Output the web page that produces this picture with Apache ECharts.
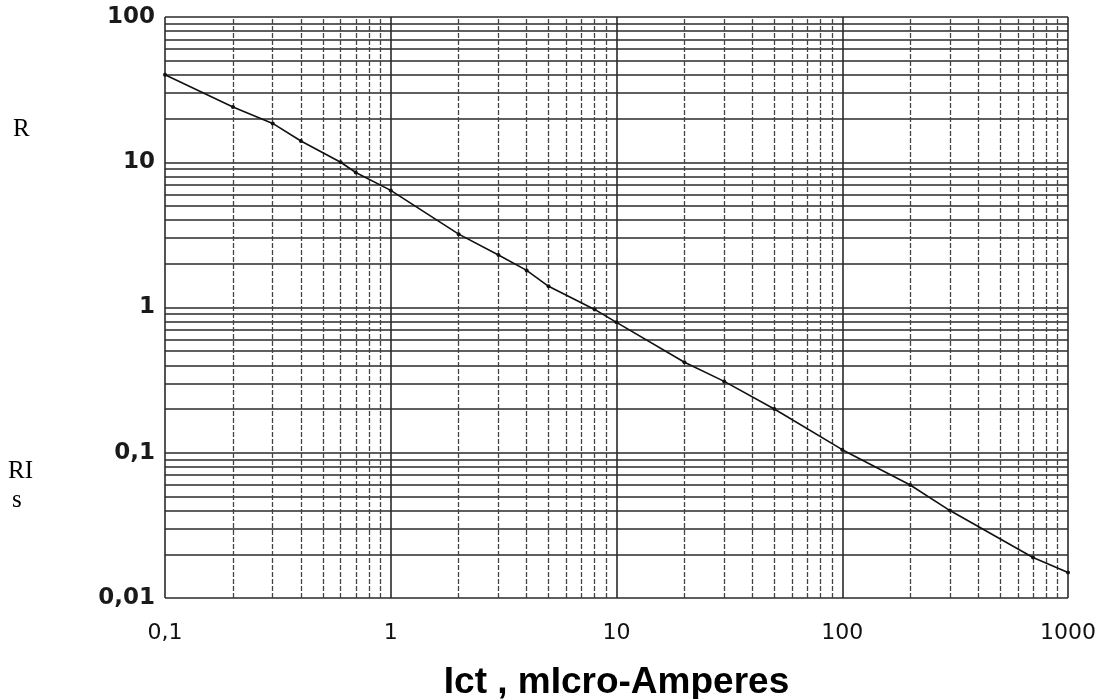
<!DOCTYPE html>
<html>
<head>
<meta charset="utf-8">
<script src="https://cdn.jsdelivr.net/npm/echarts@6/dist/echarts.min.js"></script>
<style>
html,body{margin:0;padding:0;background:#fff;}
#chart{width:1102px;height:699px;}
</style>
</head>
<body>
<div id="chart"></div>
<script>
// Data (log-log)
const currentUA = [0.1, 0.2, 0.3, 0.4, 0.6, 0.7, 1, 2, 3, 4, 5, 8, 10, 20, 30, 50, 100, 200, 300, 700, 1000];
const resistance = [40, 24, 18.5, 14, 10, 8.5, 6.4, 3.2, 2.3, 1.8, 1.4, 0.97, 0.79, 0.42, 0.31, 0.2, 0.105, 0.06, 0.04, 0.019, 0.015];

// Tick labels
const xTickLabels = ['0,1', '1', '10', '100', '1000'];
const yTickLabels = ['0,01', '0,1', '1', '10', '100'];

// Decade grid (minor log lines)
const xDecades = [0.1, 1, 10, 100];
const yDecades = [0.01, 0.1, 1, 10];
const minorMultipliers = [2, 3, 4, 5, 6, 7, 8, 9];

const xTitle = 'Ict , mIcro-Amperes';

const xMinorVals = [];
xDecades.forEach(d => minorMultipliers.forEach(m => xMinorVals.push(+(d * m).toPrecision(6))));
const xMajorVals = [0.1, 1, 10, 100, 1000];
const yAllVals = [];
yDecades.forEach(d => [1].concat(minorMultipliers).forEach(m => yAllVals.push(+(d * m).toPrecision(6))));
yAllVals.push(100);

const chart = echarts.init(document.getElementById('chart'), null, {renderer: 'canvas'});

const lineCol = '#2a2a2a';

chart.setOption({
  animation: false,
  backgroundColor: '#ffffff',
  grid: {left: 165, right: 34, top: 17, bottom: 101, containLabel: false, outerBoundsMode: 'none'},
  xAxis: {
    type: 'log', logBase: 10, min: 0.1, max: 1000,
    axisLine: {show: false}, axisTick: {show: false}, splitLine: {show: false},
    axisLabel: {
      margin: 24, color: '#111', fontFamily: 'DejaVu Sans', fontSize: 22,
      formatter: v => xTickLabels[Math.round(Math.log10(v)) + 1]
    },
    name: xTitle, nameLocation: 'middle', nameGap: 66,
    nameTextStyle: {fontFamily: 'Liberation Sans', fontWeight: 'bold', fontSize: 37, color: '#000'}
  },
  yAxis: {
    type: 'log', logBase: 10, min: 0.01, max: 100,
    axisLine: {show: false}, axisTick: {show: false}, splitLine: {show: false},
    axisLabel: {
      margin: 10, color: '#1a1a1a', fontFamily: 'DejaVu Sans', fontWeight: 'bold', fontSize: 23,
      formatter: v => yTickLabels[Math.round(Math.log10(v)) + 2]
    }
  },
  graphic: [
    {type: 'text', left: 13, top: 117, style: {text: 'R', font: '25px "Liberation Serif"', fill: '#000'}},
    {type: 'text', left: 8, top: 459, style: {text: 'RI', font: '25px "Liberation Serif"', fill: '#000'}},
    {type: 'text', left: 12, top: 488, style: {text: 's', font: '25px "Liberation Serif"', fill: '#000'}}
  ],
  series: [
    {
      type: 'line', data: [[0.1, 0.01]], showSymbol: false, lineStyle: {opacity: 0}, silent: true, z: 1,
      markLine: {
        silent: true, symbol: ['none', 'none'], label: {show: false}, animation: false,
        data: [].concat(
          yAllVals.map(v => ({yAxis: v, lineStyle: {color: lineCol, width: 1.6, type: 'solid'}})),
          xMinorVals.map(v => ({xAxis: v, lineStyle: {color: '#444', width: 1.3, type: [5, 2]}})),
          xMajorVals.map(v => ({xAxis: v, lineStyle: {color: lineCol, width: 1.6, type: 'solid'}}))
        )
      }
    },
    {
      type: 'line', data: currentUA.map((x, i) => [x, resistance[i]]), z: 5,
      lineStyle: {color: '#111', width: 1.6}, symbol: 'circle', symbolSize: 4,
      itemStyle: {color: '#111'}, showSymbol: true
    }
  ]
});
</script>
</body>
</html>
